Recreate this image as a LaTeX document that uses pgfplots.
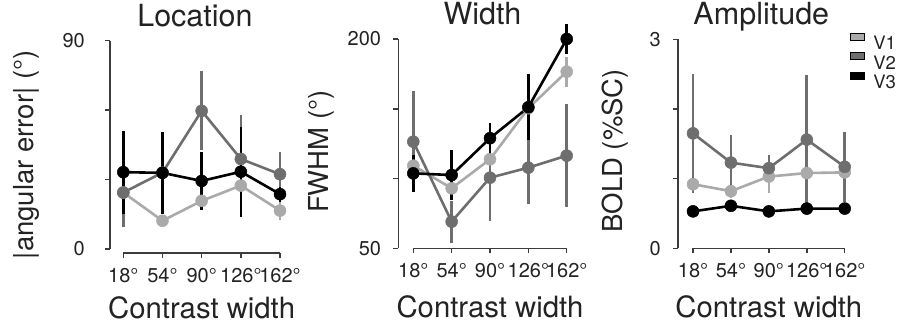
\documentclass[border=0pt]{standalone}
\usepackage{fontspec}
\setmainfont{TeX Gyre Heros}
\usepackage{pgfplots}
\usepackage{pgfplotstable}
\pgfplotsset{compat=1.18}
\definecolor{v1}{RGB}{170,170,170}
\definecolor{v2}{RGB}{110,110,110}
\definecolor{v3}{RGB}{0,0,0}
\definecolor{ax}{RGB}{60,60,60}
\definecolor{txt}{RGB}{35,35,35}

% Location
\pgfplotstableread{
x y e
0 24.4 8
1 12.2 2
2 20.8 3.7
3 27.4 5
4 16.6 4
}\locA
\pgfplotstableread{
x y e
0 24.4 15
1 33.0 8
2 59.7 17
3 38.9 19
4 32.3 9.8
}\locB
\pgfplotstableread{
x y e
0 33.2 18
1 32.9 17.6
2 29.4 12.6
3 33.4 19.5
4 23.7 3.3
}\locC
% Width
\pgfplotstableread{
x y e
0 109.2 5
1 93.0 5
2 113.8 5
3 150.4 5
4 176.6 10.8
}\widA
\pgfplotstableread{
x y e
0 126.4 36
1 69.1 15
2 100.6 31
3 107.8 26
4 116.4 36.7
}\widB
\pgfplotstableread{
x y e
0 103.7 13.5
1 102.5 17.7
2 128.9 11.2
3 151.1 23.7
4 200.0 10.9
}\widC
% Amplitude
\pgfplotstableread{
x y e
0 0.92 0.10
1 0.82 0.10
2 1.03 0.23
3 1.08 0.05
4 1.09 0.05
}\ampA
\pgfplotstableread{
x y e
0 1.65 0.85
1 1.23 0.39
2 1.15 0.19
3 1.56 0.93
4 1.17 0.50
}\ampB
\pgfplotstableread{
x y e
0 0.53 0.02
1 0.61 0.02
2 0.53 0.02
3 0.57 0.02
4 0.57 0.02
}\ampC

\pgfplotsset{
 panel/.style={
  scale only axis, clip=false,
  xmin=0, xmax=4, xtick={0,1,2,3,4},
  xticklabels={18°,54°,90°,126°,162°},
  axis lines=left,
  axis line style={draw=ax, line width=1.5bp, -},
  every tick/.style={draw=ax, line width=1.5bp},
  tick align=outside, major tick length=5bp,
  tick label style={font=\fontsize{20bp}{23bp}\selectfont, text=txt},
  xticklabel style={anchor=base, yshift=-24bp, inner sep=0pt},
  yticklabel style={anchor=east, inner sep=0pt, xshift=-12bp},
  xlabel={Contrast width},
  xlabel style={font=\fontsize{29.3bp}{33bp}\selectfont, text=txt,
     at={(axis description cs:0.5,0)}, anchor=base, yshift=-69.5bp, inner sep=0pt},
  ylabel style={font=\fontsize{27.5bp}{31bp}\selectfont, text=txt, anchor=north, inner sep=0pt},
  title style={font=\fontsize{30.5bp}{34bp}\selectfont, text=txt, anchor=base, inner sep=0pt},
 },
 ser/.style={color=#1, line width=2.6bp, mark=*, mark size=6bp,
   mark options={fill=#1, draw=#1, line width=0.5bp, solid},
   forget plot,
   error bars/.cd, y dir=both, y explicit, error mark=none,
   error bar style={line width=2.6bp, color=#1}},
}

\begin{document}
\begin{tikzpicture}
\useasboundingbox (0,0) rectangle (898bp,325bp);

\begin{axis}[panel, at={(123.3bp,76bp)}, anchor=south west,
  width=156.7bp, height=208.3bp,
  ymin=0, ymax=90, ytick={0,30,60,90}, yticklabels={0,,,90},
  axis y line shift=13.3bp, axis x line shift=4bp,
  title={Location},
  title style={at={([xshift=-6.7bp, yshift=8.5bp]axis description cs:0.5,1)}},
  ylabel={|angular error| (°)},
  ylabel style={at={([xshift=-110.3bp, yshift=-10bp]axis description cs:0,0.5)}},
  yticklabel style={xshift=-8bp}]
\addplot[ser=v1] table[x=x, y=y, y error=e] {\locA};
\addplot[ser=v2] table[x=x, y=y, y error=e] {\locB};
\addplot[ser=v3] table[x=x, y=y, y error=e] {\locC};
\end{axis}

\begin{axis}[panel, at={(413.3bp,76.7bp)}, anchor=south west,
  width=153.4bp, height=209.3bp,
  ymin=50, ymax=200, ytick={50,100,150,200}, yticklabels={50,,,200},
  axis y line shift=15bp,
  title={Width},
  title style={at={([xshift=-7.5bp, yshift=8.5bp]axis description cs:0.5,1)}},
  ylabel={FWHM (°)},
  ylabel style={at={([xshift=-105.3bp, yshift=-8bp]axis description cs:0,0.5)}}]
\addplot[ser=v1] table[x=x, y=y, y error=e] {\widA};
\addplot[ser=v2] table[x=x, y=y, y error=e] {\widB};
\addplot[ser=v3] table[x=x, y=y, y error=e] {\widC};
\end{axis}

\begin{axis}[panel, at={(693bp,76.7bp)}, anchor=south west,
  width=151.7bp, height=209bp,
  ymin=0, ymax=3, ytick={0,1,2,3}, yticklabels={0,,,3},
  axis y line shift=15bp,
  title={Amplitude},
  title style={at={([xshift=-7.5bp, yshift=8.5bp]axis description cs:0.5,1)}},
  ylabel={BOLD (\%SC)},
  ylabel style={at={([xshift=-91bp, yshift=-7bp]axis description cs:0,0.5)}},
  legend style={at={(axis description cs:1,1)}, anchor=north west,
    xshift=5bp, yshift=6.3bp, draw=none, fill=none, inner sep=0pt,
    font=\fontsize{18.5bp}{21bp}\selectfont, text=txt,
    row sep=2.5bp,
    nodes={inner sep=0pt, text height=13bp, text depth=0pt}},
  legend cell align=left]
\addlegendimage{legend image code/.code={\path[fill=v1] (0bp,3bp) rectangle (14bp,10bp);}}
\addlegendentry{\hspace{9bp}V1}
\addlegendimage{legend image code/.code={\path[fill=v2] (0bp,3bp) rectangle (14bp,10bp);}}
\addlegendentry{\hspace{9bp}V2}
\addlegendimage{legend image code/.code={\path[fill=v3] (0bp,3bp) rectangle (14bp,10bp);}}
\addlegendentry{\hspace{9bp}V3}
\addplot[ser=v1] table[x=x, y=y, y error=e] {\ampA};
\addplot[ser=v2] table[x=x, y=y, y error=e] {\ampB};
\addplot[ser=v3] table[x=x, y=y, y error=e] {\ampC};
\end{axis}
\end{tikzpicture}
\end{document}
